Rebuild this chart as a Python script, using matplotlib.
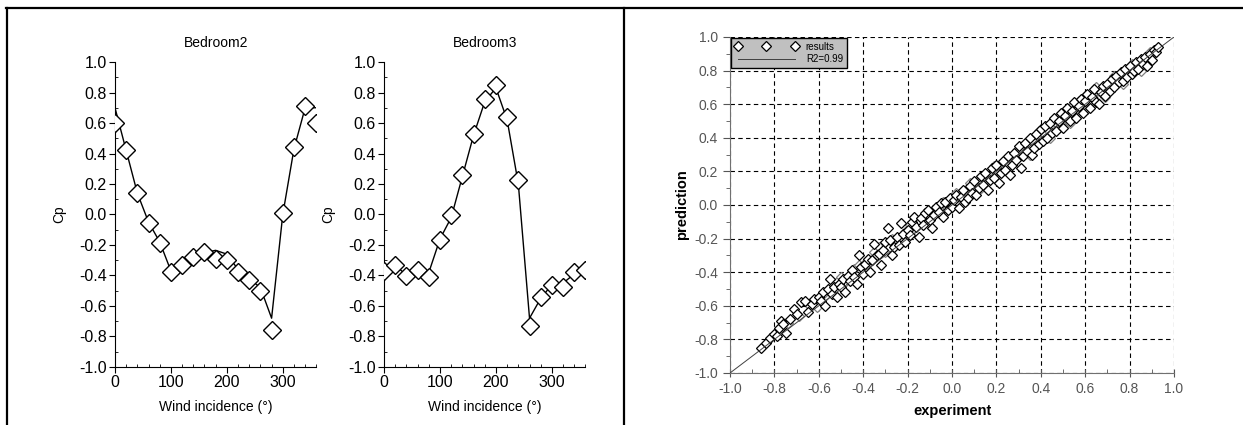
import matplotlib
matplotlib.use('Agg')
import matplotlib.pyplot as plt
from matplotlib.lines import Line2D
from matplotlib.ticker import MultipleLocator, FormatStrFormatter

plt.rcParams['font.family'] = ['Liberation Sans', 'DejaVu Sans']
plt.rcParams['axes.unicode_minus'] = False

# wind incidence (deg), measured Cp (markers) and model Cp (line)
angles = [0, 20, 40, 60, 80, 100, 120, 140, 160, 180, 200, 220, 240, 260, 280, 300, 320, 340, 360]
bed2_meas = [0.60, 0.42, 0.14, -0.055, -0.19, -0.38, -0.33, -0.28, -0.245, -0.29, -0.30, -0.38, -0.43, -0.50, -0.755, 0.01, 0.44, 0.71, 0.60]
bed2_model = [0.70, 0.42, 0.14, -0.05, -0.18, -0.37, -0.33, -0.29, -0.25, -0.235, -0.26, -0.36, -0.42, -0.48, -0.68, 0.0, 0.43, 0.70, 0.70]
bed3_meas = [-0.37, -0.33, -0.405, -0.365, -0.41, -0.165, -0.005, 0.26, 0.525, 0.755, 0.85, 0.64, 0.225, -0.73, -0.54, -0.46, -0.475, -0.375, -0.365]
bed3_model = [-0.42, -0.33, -0.40, -0.37, -0.38, -0.16, -0.02, 0.25, 0.52, 0.74, 0.83, 0.62, 0.20, -0.68, -0.55, -0.46, -0.45, -0.39, -0.33]
rooms = ['Bedroom2', 'Bedroom3']

# experiment vs prediction, black-edged points
exp_a = [-0.86, -0.84, -0.82, -0.80, -0.79, -0.78, -0.77, -0.76, -0.75, -0.73, -0.71, -0.70, -0.68, -0.66,
         -0.65, -0.63, -0.62, -0.60, -0.59, -0.58, -0.57, -0.56, -0.55, -0.54, -0.53, -0.52, -0.51, -0.50,
         -0.49, -0.48, -0.47, -0.46, -0.45, -0.44, -0.43, -0.42, -0.41, -0.40, -0.39, -0.38, -0.37, -0.36,
         -0.35, -0.34, -0.33, -0.32, -0.31, -0.30, -0.29, -0.28, -0.27, -0.26, -0.25, -0.24, -0.23, -0.22,
         -0.21, -0.20, -0.19, -0.18, -0.17, -0.16, -0.15, -0.14, -0.13, -0.12, -0.11, -0.10, -0.09, -0.08,
         -0.07, -0.06, -0.05, -0.04, -0.03, -0.02, -0.01, 0.00, 0.01, 0.02, 0.03, 0.04, 0.05, 0.06, 0.07,
         0.08, 0.09, 0.10, 0.11, 0.12, 0.13, 0.14, 0.15, 0.16, 0.17, 0.18, 0.19, 0.20, 0.21, 0.22, 0.23,
         0.24, 0.25, 0.26, 0.27, 0.28, 0.29, 0.30, 0.31, 0.32, 0.33, 0.34, 0.35, 0.36, 0.37, 0.38, 0.39,
         0.40, 0.41, 0.42, 0.43, 0.44, 0.45, 0.46, 0.47, 0.48, 0.49, 0.50, 0.51, 0.52, 0.53, 0.54, 0.55,
         0.56, 0.57, 0.58, 0.59, 0.60, 0.61, 0.62, 0.63, 0.64, 0.65, 0.66, 0.67, 0.68, 0.69, 0.70, 0.71,
         0.72, 0.73, 0.74, 0.75, 0.76, 0.77, 0.78, 0.79, 0.80, 0.81, 0.82, 0.83, 0.84, 0.85, 0.86, 0.87,
         0.88, 0.89, 0.90, 0.91, 0.92, 0.93]
pred_a = [-0.85, -0.82, -0.79, -0.77, -0.78, -0.73, -0.69, -0.71, -0.76, -0.68, -0.62, -0.65, -0.58, -0.57,
          -0.64, -0.59, -0.56, -0.55, -0.57, -0.52, -0.60, -0.50, -0.44, -0.53, -0.49, -0.55, -0.47, -0.49,
          -0.44, -0.52, -0.42, -0.45, -0.39, -0.43, -0.47, -0.30, -0.37, -0.41, -0.35, -0.32, -0.40, -0.33,
          -0.23, -0.30, -0.29, -0.36, -0.27, -0.22, -0.14, -0.21, -0.30, -0.25, -0.19, -0.24, -0.11, -0.17,
          -0.22, -0.15, -0.18, -0.10, -0.07, -0.13, -0.19, -0.08, -0.12, -0.05, -0.03, -0.09, -0.14, -0.06,
          -0.01, -0.04, 0.01, -0.07, 0.02, -0.03, 0.04, -0.01, 0.03, 0.06, -0.02, 0.05, 0.09, 0.02, 0.04,
          0.11, 0.07, 0.14, 0.06, 0.10, 0.17, 0.12, 0.19, 0.09, 0.15, 0.22, 0.16, 0.24, 0.13, 0.19, 0.26,
          0.21, 0.29, 0.18, 0.24, 0.31, 0.27, 0.35, 0.22, 0.29, 0.37, 0.32, 0.40, 0.30, 0.34, 0.42, 0.36,
          0.45, 0.38, 0.47, 0.40, 0.49, 0.43, 0.52, 0.44, 0.50, 0.55, 0.46, 0.53, 0.58, 0.50, 0.56, 0.61,
          0.52, 0.59, 0.63, 0.55, 0.62, 0.66, 0.58, 0.64, 0.69, 0.61, 0.60, 0.67, 0.71, 0.65, 0.72, 0.68,
          0.75, 0.70, 0.77, 0.73, 0.79, 0.74, 0.81, 0.76, 0.83, 0.78, 0.80, 0.85, 0.81, 0.87, 0.84, 0.88,
          0.83, 0.90, 0.86, 0.92, 0.91, 0.94]
# grey-edged points
exp_b = [-0.74, -0.69, -0.64, -0.61, -0.57, -0.52, -0.48, -0.44, -0.40, -0.37, -0.33, -0.30, -0.27, -0.24,
         -0.21, -0.18, -0.15, -0.12, -0.09, -0.06, -0.03, 0.00, 0.03, 0.06, 0.09, 0.12, 0.15, 0.18, 0.20,
         0.23, 0.26, 0.28, 0.31, 0.33, 0.36, 0.38, 0.41, 0.43, 0.45, 0.47, 0.49, 0.51, 0.52, 0.54, 0.56,
         0.58, 0.60, 0.62, 0.64, 0.66, 0.68, 0.70, 0.72, 0.74, 0.76, 0.78, 0.80, 0.82, 0.84, 0.86, 0.88,
         0.90, 0.92,
         -0.58, -0.50, -0.42, -0.35, -0.26, -0.19, -0.11, -0.04, 0.02, 0.08, 0.13, 0.19, 0.25, 0.30, 0.35,
         0.39, 0.44, 0.48, 0.53, 0.57, 0.61, 0.65, 0.69, 0.73, 0.77, 0.81, 0.85, 0.89]
pred_b = [-0.70, -0.66, -0.60, -0.61, -0.54, -0.46, -0.46, -0.38, -0.36, -0.34, -0.25, -0.28, -0.20, -0.20,
          -0.16, -0.15, -0.10, -0.09, -0.04, -0.02, 0.00, 0.04, 0.05, 0.08, 0.10, 0.15, 0.14, 0.18, 0.21,
          0.22, 0.28, 0.26, 0.33, 0.31, 0.38, 0.35, 0.43, 0.45, 0.47, 0.49, 0.48, 0.56, 0.52, 0.59, 0.57,
          0.57, 0.65, 0.61, 0.63, 0.68, 0.66, 0.69, 0.71, 0.74, 0.75, 0.77, 0.79, 0.83, 0.84, 0.86, 0.87,
          0.89, 0.93,
          -0.53, -0.43, -0.36, -0.28, -0.21, -0.12, -0.06, 0.02, 0.07, 0.13, 0.10, 0.23, 0.23, 0.34, 0.30,
          0.44, 0.40, 0.53, 0.49, 0.62, 0.57, 0.70, 0.64, 0.77, 0.72, 0.84, 0.80, 0.91]
fit_x = [-1.0, 1.0]
fit_y = [-1.0, 1.0]

fig = plt.figure(figsize=(12.43, 4.25), dpi=100)

# table frame around the panels
for xs, ys in [([6, 1243], [417, 417]), ([7, 7], [0, 417]), ([624, 624], [0, 417])]:
    fig.add_artist(Line2D([v / 1243 for v in xs], [v / 425 for v in ys], color='black', lw=1.6))

def cpPlot(ax, meas, model, title):
    ax.plot(angles, model, '-', color='black', lw=1.0, zorder=2)
    ax.plot(angles, meas, 'D', ms=9, mfc='white', mec='black', mew=1.0, zorder=3)
    ax.set_xlim(0, 360)
    ax.set_ylim(-1.0, 1.0)
    ax.spines['top'].set_visible(False)
    ax.spines['right'].set_visible(False)
    ax.xaxis.set_major_locator(MultipleLocator(100))
    ax.xaxis.set_minor_locator(MultipleLocator(20))
    ax.yaxis.set_major_locator(MultipleLocator(0.2))
    ax.yaxis.set_minor_locator(MultipleLocator(0.1))
    ax.yaxis.set_major_formatter(FormatStrFormatter('%.1f'))
    ax.tick_params(which='major', direction='out', length=4, labelsize=11.5, pad=2)
    ax.tick_params(which='minor', direction='in', length=2.5)
    ax.set_title(title, fontsize=10, pad=11)
    ax.set_xlabel('Wind incidence (°)', fontsize=10, labelpad=7)
    ax.set_ylabel('Cp', fontsize=10, labelpad=9)

ax1 = fig.add_axes([0.0925, 0.1365, 0.162, 0.7176])
cpPlot(ax1, bed2_meas, bed2_model, rooms[0])
ax2 = fig.add_axes([0.309, 0.1365, 0.162, 0.7176])
cpPlot(ax2, bed3_meas, bed3_model, rooms[1])

# experiment vs prediction
ax3 = fig.add_axes([0.5873, 0.1224, 0.3572, 0.7906])
ax3.plot(exp_b, pred_b, 'D', ms=5.3, mfc='white', mec='#808080', mew=0.9, zorder=3)
ax3.plot(exp_a, pred_a, 'D', ms=5.3, mfc='white', mec='black', mew=0.9, zorder=4, label='results')
ax3.plot(fit_x, fit_y, '-', color='#404040', lw=0.7, zorder=5, label='R2=0.99')
ax3.set_xlim(-1.0, 1.0)
ax3.set_ylim(-1.0, 1.0)
ax3.spines['top'].set_visible(False)
ax3.spines['right'].set_visible(False)
ax3.spines['left'].set_color('#707070')
ax3.spines['bottom'].set_color('#707070')
for a in [ax3.xaxis, ax3.yaxis]:
    a.set_major_locator(MultipleLocator(0.2))
    a.set_minor_locator(MultipleLocator(0.1))
    a.set_major_formatter(FormatStrFormatter('%.1f'))
ax3.tick_params(which='both', colors='#555555', labelsize=10)
ax3.tick_params(axis='y', which='major', direction='out', length=5)
ax3.tick_params(axis='y', which='minor', direction='out', length=3)
ax3.tick_params(axis='x', which='major', direction='inout', length=6)
ax3.tick_params(axis='x', which='minor', direction='in', length=3)
ax3.grid(True, which='major', linestyle=(0, (4, 3)), color='black', lw=0.8)
ax3.set_axisbelow(True)
ax3.set_xlabel('experiment', fontsize=10.5, fontweight='bold', labelpad=6)
ax3.set_ylabel('prediction', fontsize=10.5, fontweight='bold', labelpad=4)
leg = ax3.legend(loc='upper left', numpoints=3, fontsize=7, frameon=True, fancybox=False,
                 handlelength=6.5, borderpad=0.4, labelspacing=0.25, handletextpad=0.8,
                 borderaxespad=0.1)
leg.get_frame().set_facecolor('#c0c0c0')
leg.get_frame().set_edgecolor('black')
leg.get_frame().set_alpha(1.0)

plt.savefig('out.png', dpi=100)
